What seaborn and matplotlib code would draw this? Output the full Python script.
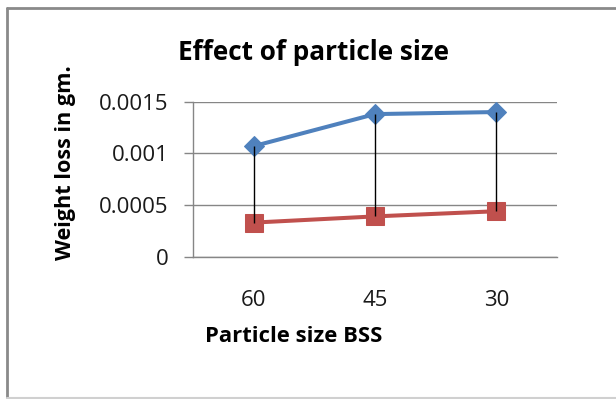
import matplotlib
matplotlib.use("Agg")
import matplotlib.pyplot as plt
from matplotlib.lines import Line2D
import seaborn as sns
import pandas as pd

categories = ["60", "45", "30"]
series_a = [0.00107, 0.00138, 0.00140]
series_b = [0.00033, 0.00039, 0.00044]
yticks = [0, 0.0005, 0.001, 0.0015]
ytick_labels = ["0", "0.0005", "0.001", "0.0015"]
title = "Effect of particle size"
xlabel = "Particle size BSS"
ylabel = "Weight loss in gm."

sns.set_theme(style="white")
plt.rcParams['font.family'] = ['Open Sans', 'DejaVu Sans']

W, H = 616, 399
fig = plt.figure(figsize=(W / 100, H / 100), dpi=100)
ax = fig.add_axes([193 / W, 1 - 256.7 / H, 364 / W, 155 / H])

df_a = pd.DataFrame({"size": categories, "loss": series_a})
df_b = pd.DataFrame({"size": categories, "loss": series_b})

blue = "#4F81BD"
red = "#C0504D"
sns.lineplot(data=df_a, x="size", y="loss", sort=False, color=blue, lw=2.9,
             marker="D", markersize=10, markeredgecolor=blue, ax=ax, zorder=3)
sns.lineplot(data=df_b, x="size", y="loss", sort=False, color=red, lw=2.9,
             marker="s", markersize=13, markeredgecolor=red, ax=ax, zorder=3)
ax.vlines(categories, series_b, series_a, colors="black", lw=1, zorder=5)

ax.set_xlim(-0.5, 2.5)
ax.set_ylim(0, 0.0015)
ax.set_yticks(yticks)
ax.set_yticklabels(ytick_labels)
ax.yaxis.grid(True, color="#868686", lw=1)
ax.set_axisbelow(True)
for s in ["top", "right"]:
    ax.spines[s].set_visible(False)
for s in ["left", "bottom"]:
    ax.spines[s].set_color("#868686")
    ax.spines[s].set_linewidth(1)
ax.tick_params(axis="y", left=True, length=6.5, width=1, color="#868686",
               labelsize=16, pad=11, labelcolor="#1a1a1a")
ax.tick_params(axis="x", bottom=False, length=0, labelsize=16, pad=24,
               labelcolor="#1a1a1a")
ax.set_xlabel("")
ax.set_ylabel("")

fig.text(314 / W, 1 - 52 / H, title, ha="center", va="center",
         fontsize=18.8, fontweight="bold", color="black")
fig.text(294 / W, 1 - 336 / H, xlabel, ha="center", va="center",
         fontsize=15.8, fontweight="bold", color="black")
fig.text(65 / W, 1 - 163 / H, ylabel, ha="center", va="center",
         rotation=90, fontsize=15.6, fontweight="bold", color="black")

# chart border
fig.add_artist(Line2D([7 / W, 1], [1 - 8 / H, 1 - 8 / H], color="#8a8a8a", lw=2))
fig.add_artist(Line2D([7 / W, 7 / W], [1 - 8 / H, 1 - 397 / H], color="#8a8a8a", lw=2))
fig.add_artist(Line2D([7 / W, 1], [1 - 397.5 / H, 1 - 397.5 / H], color="#d0d0d0", lw=1.5))

fig.savefig("out.png", dpi=100)
